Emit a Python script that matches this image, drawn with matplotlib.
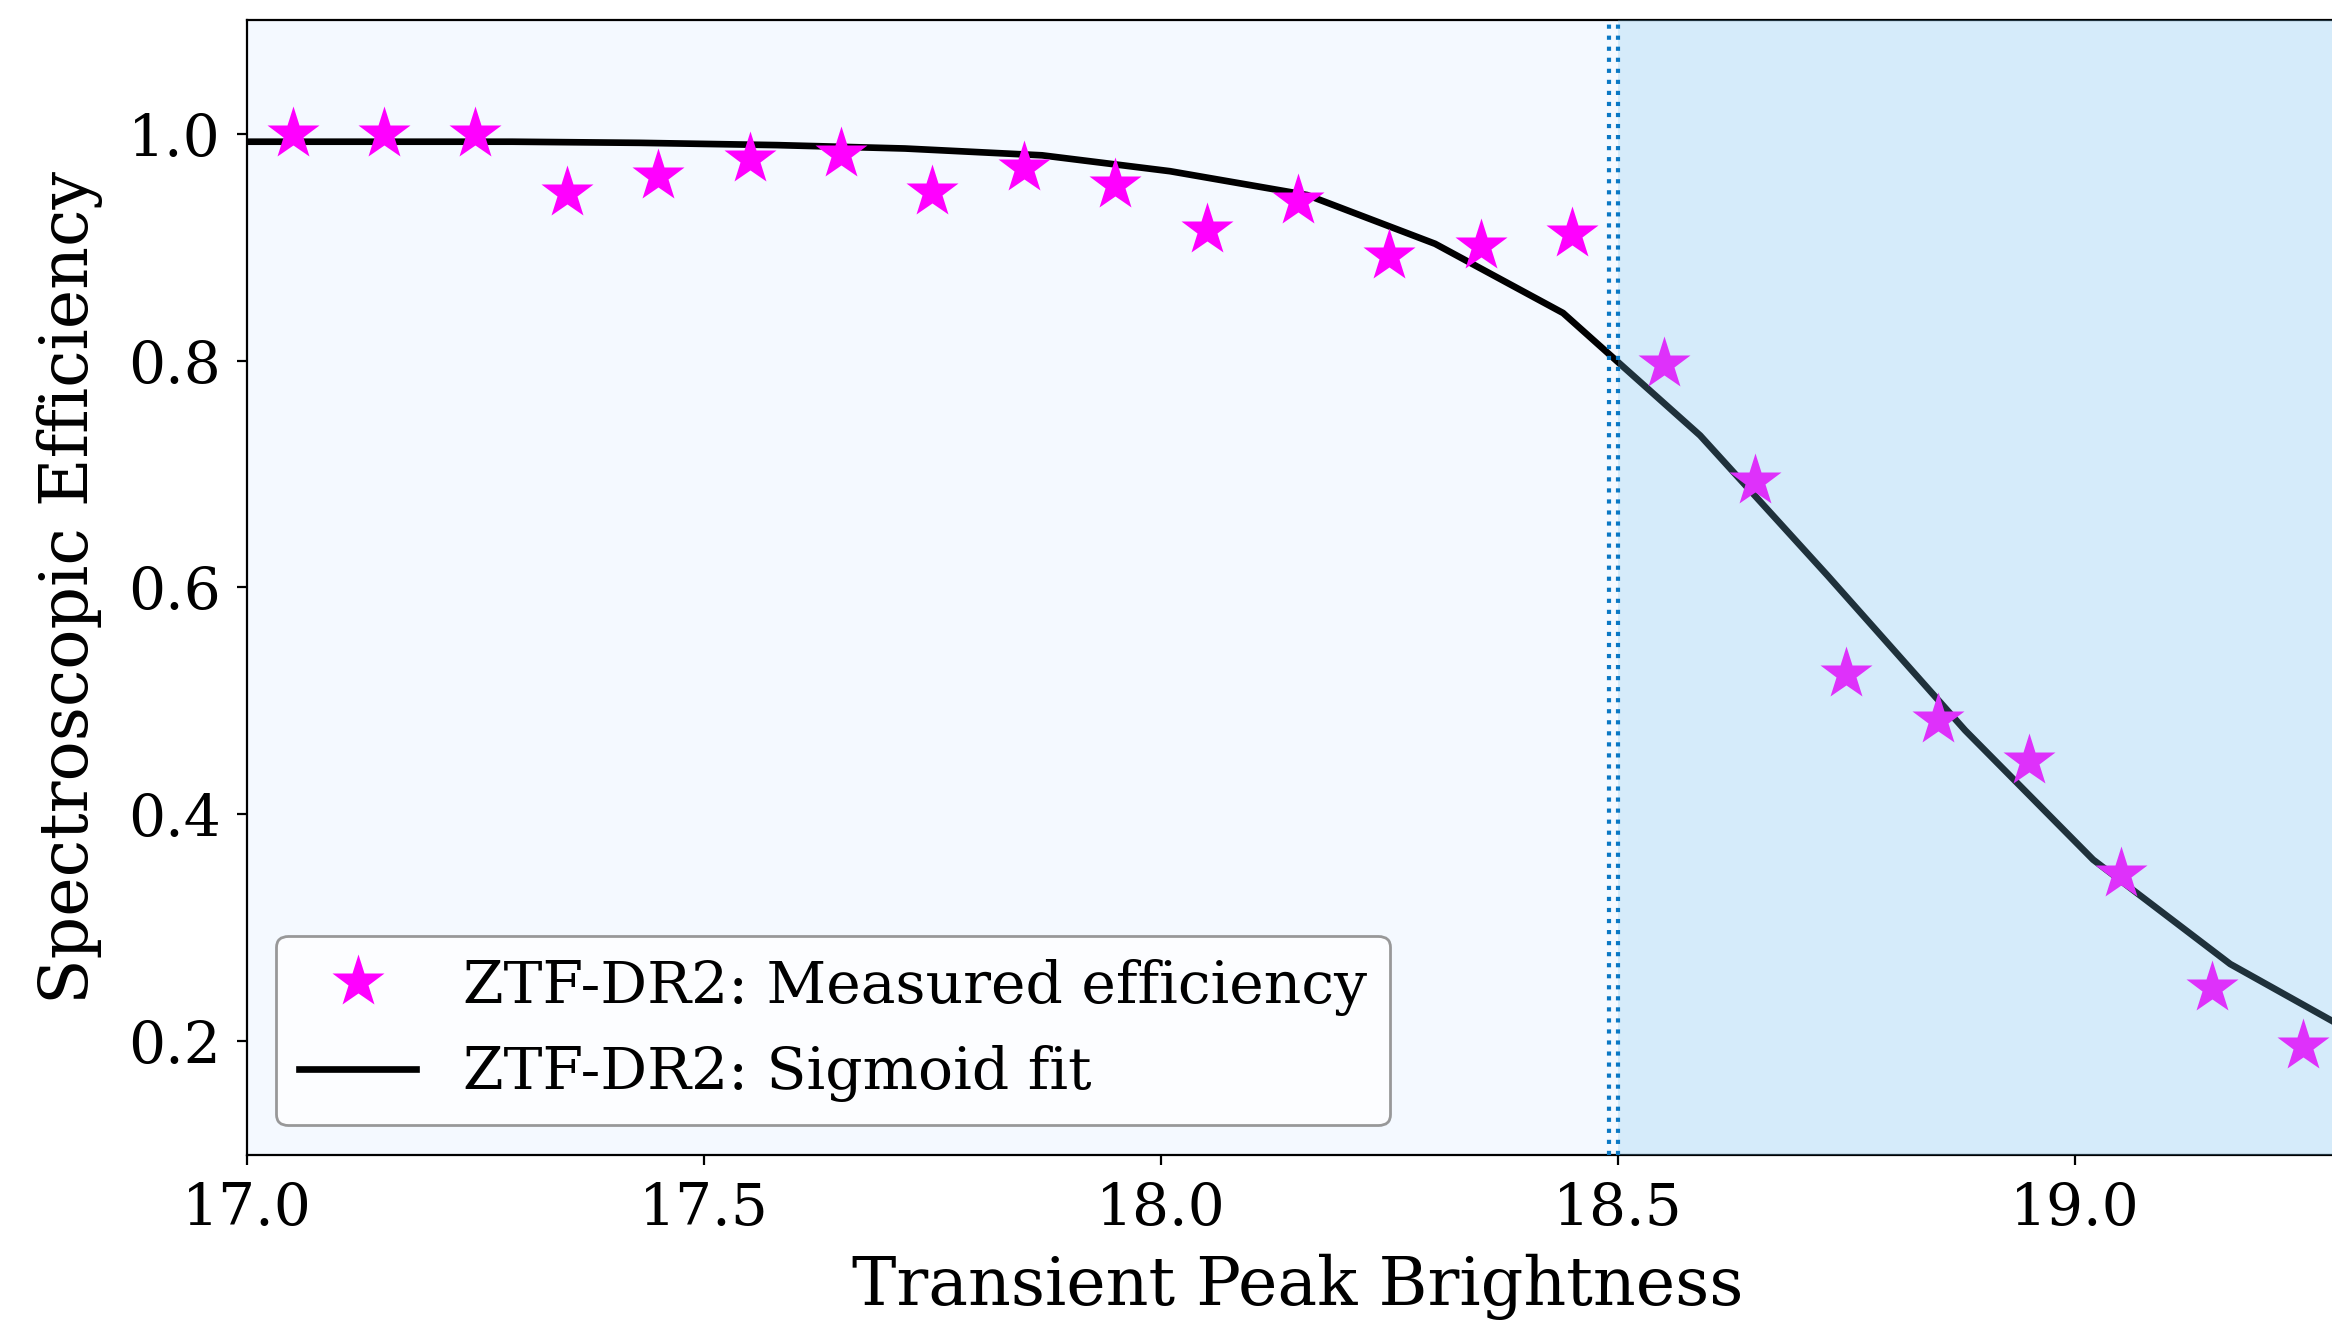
import numpy as np
import matplotlib
matplotlib.use("Agg")
import matplotlib.pyplot as plt

plt.rcParams['font.family'] = 'serif'
plt.rcParams['font.serif'] = ['DejaVu Serif']

# measured spectroscopic efficiency per 0.1 mag bin
mag_bins = [17.05, 17.15, 17.25, 17.35, 17.45, 17.55, 17.65, 17.75, 17.85, 17.95,
            18.05, 18.15, 18.25, 18.35, 18.45, 18.55, 18.65, 18.75, 18.85, 18.95,
            19.05, 19.15, 19.25]
efficiency = [1.0, 1.0, 1.0, 0.948, 0.963, 0.978, 0.982, 0.949, 0.970, 0.955,
              0.915, 0.941, 0.892, 0.901, 0.912, 0.797, 0.694, 0.524, 0.483, 0.447,
              0.347, 0.247, 0.196]

# sigmoid fit, sampled on a coarse grid
fit_mag = [17.0, 17.14, 17.29, 17.43, 17.58, 17.72, 17.87, 18.01, 18.16, 18.3,
           18.44, 18.59, 18.73, 18.88, 19.02, 19.17, 19.31]
fit_eff = [0.993, 0.993, 0.993, 0.992, 0.990, 0.987, 0.981, 0.967, 0.946, 0.903,
           0.842, 0.734, 0.610, 0.474, 0.360, 0.268, 0.205]

mag_cut = 18.5

fig = plt.figure(figsize=(11.66, 6.65), dpi=200)
ax = fig.add_axes([0.1059, 0.1319, 0.9014, 0.8528])
ax.set_facecolor('#f4f9ff')

ax.plot(mag_bins, efficiency, '*', color='magenta', ms=20, mec='none',
        label='ZTF-DR2: Measured efficiency', zorder=3)
ax.plot(fit_mag, fit_eff, '-', color='black', lw=2.4,
        label='ZTF-DR2: Sigmoid fit', zorder=2)

# shade the faint end above the cut
ax.axvspan(mag_cut, 19.5, color='#7cc4ee', alpha=0.25, lw=0, zorder=4)
ax.axvline(mag_cut - 0.01, color='#0a78c4', ls=':', lw=1.5, zorder=5)
ax.axvline(mag_cut, color='#0a78c4', ls=':', lw=1.5, zorder=5)

ax.set_xlim(17.0, 19.3)
ax.set_ylim(0.1, 1.1)
ax.set_xticks([17.0, 17.5, 18.0, 18.5, 19.0])
ax.set_yticks([0.2, 0.4, 0.6, 0.8, 1.0])
ax.tick_params(labelsize=21, pad=6)
ax.spines['right'].set_visible(False)

ax.set_xlabel('Transient Peak Brightness', fontsize=24, labelpad=6)
ax.set_ylabel('Spectroscopic Efficiency', fontsize=24, labelpad=9)

leg = ax.legend(loc='lower left', fontsize=21)
leg.get_frame().set_edgecolor('0.5')
leg.set_zorder(6)

fig.savefig('out.png', dpi=200)
